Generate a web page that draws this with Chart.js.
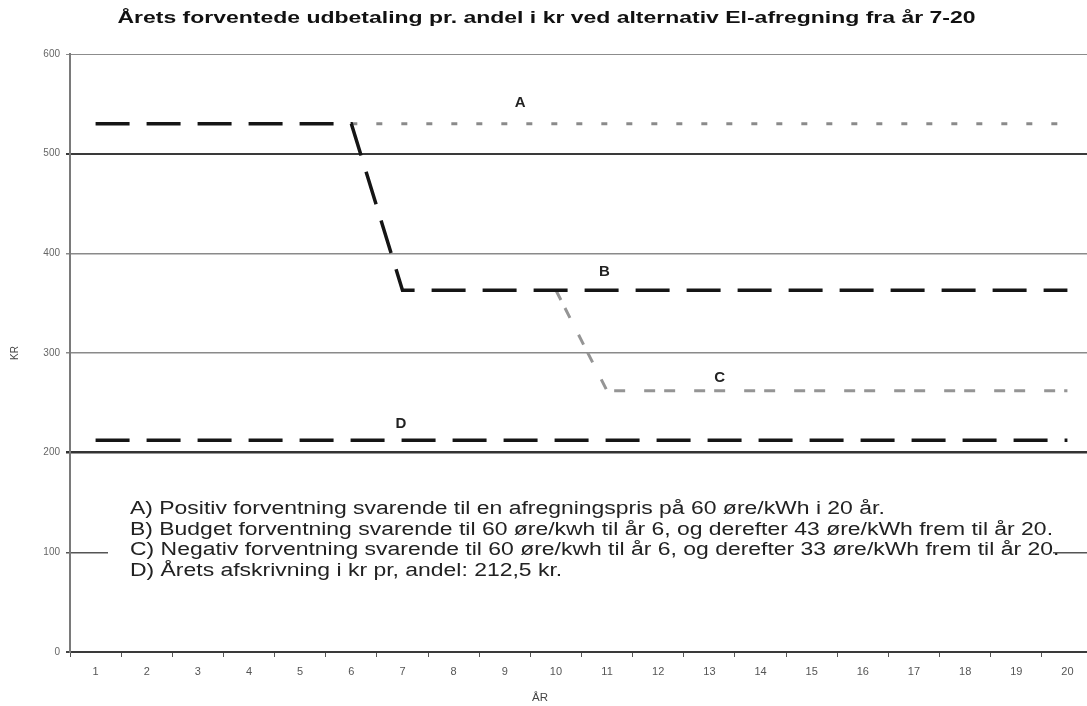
<!DOCTYPE html>
<html lang="da">
<head>
<meta charset="utf-8">
<title>Årets forventede udbetaling pr. andel</title>
<script src="https://cdn.jsdelivr.net/npm/chart.js@4/dist/chart.umd.min.js"></script>
<style>
  html, body { margin: 0; padding: 0; background: #fff; overflow: hidden; }
  #wrap { width: 1087px; height: 706px; overflow: hidden; }
  canvas { display: block; }
</style>
</head>
<body>
<div id="wrap"><canvas id="chart" width="1100" height="706"></canvas></div>
<script>
// Years 1-20
const years = ['1','2','3','4','5','6','7','8','9','10','11','12','13','14','15','16','17','18','19','20'];

// Expected yearly payout per share (kr)
const seriesA = [530,530,530,530,530,530,530,530,530,530,530,530,530,530,530,530,530,530,530,530];
const seriesB = [530,530,530,530,530,530,363,363,363,363,363,363,363,363,363,363,363,363,363,363];
const seriesC = [530,530,530,530,530,530,363,363,363,363,262,262,262,262,262,262,262,262,262,262];
const seriesD = [212.5,212.5,212.5,212.5,212.5,212.5,212.5,212.5,212.5,212.5,212.5,212.5,212.5,212.5,212.5,212.5,212.5,212.5,212.5,212.5];

// Y axis tick values
const yTicks = [0,100,200,300,400,500,600];

// Letter tags placed next to each curve: [letter, year position, kr]
const tagLetters = ['A','B','C','D'];
const tagYears = [9.3, 10.95, 13.2, 6.97];
const tagValues = [551, 381, 275, 229];

const titleText = 'Årets forventede udbetaling pr. andel i kr ved alternativ El-afregning fra år 7-20';
const xTitle = 'ÅR';
const noteLines = [
  'A) Positiv forventning svarende til en afregningspris på 60 øre/kWh i 20 år.',
  'B) Budget forventning svarende til 60 øre/kwh til år 6, og derefter 43 øre/kWh frem til år 20.',
  'C) Negativ forventning svarende til 60 øre/kwh til år 6, og derefter 33 øre/kWh frem til år 20.',
  'D) Årets afskrivning i kr pr, andel: 212,5 kr.'
];

const FONT = '"Liberation Sans", Arial, sans-serif';
const HIDDEN = 'rgba(0,0,0,0)';

// Hide the parts of a curve that run on top of curve B
function overlapsB(series, color) {
  return ctx => (series[ctx.p0DataIndex] === seriesB[ctx.p0DataIndex] &&
                 series[ctx.p1DataIndex] === seriesB[ctx.p1DataIndex]) ? HIDDEN : color;
}

// Draws text squeezed horizontally to a given width
function fitText(ctx, text, x, y, width, font, align) {
  ctx.save();
  ctx.font = font;
  const w = ctx.measureText(text).width;
  const sx = width / w;
  ctx.translate(x, y);
  ctx.scale(sx, 1);
  ctx.textAlign = align;
  ctx.fillText(text, 0, 0);
  ctx.restore();
}

const decorations = {
  id: 'decorations',
  beforeDatasetsDraw(chart) {
    const ctx = chart.ctx;
    const area = chart.chartArea;
    // Explanatory box over the lower part of the plot
    ctx.save();
    ctx.fillStyle = '#ffffff';
    ctx.fillRect(area.left + 38, area.top + 424, 945, 160);
    ctx.fillStyle = '#222';
    ctx.textBaseline = 'middle';
    ctx.font = '18px ' + FONT;
    const sx = 923 / ctx.measureText(noteLines[1]).width;
    noteLines.forEach((line, i) => {
      ctx.save();
      ctx.translate(area.left + 60, area.top + 455 + i * 20.6);
      ctx.scale(sx, 1);
      ctx.textAlign = 'left';
      ctx.fillText(line, 0, 0);
      ctx.restore();
    });
    ctx.restore();
  },
  afterDraw(chart) {
    const ctx = chart.ctx;
    const xs = chart.scales.x, ys = chart.scales.y;
    ctx.save();
    ctx.fillStyle = '#111';
    ctx.textBaseline = 'middle';
    fitText(ctx, titleText, 546.5, 18, 858, 'bold 17px ' + FONT, 'center');
    // Axis title under the year labels
    ctx.fillStyle = '#444';
    fitText(ctx, xTitle, 540, 698, 16, '11px ' + FONT, 'center');
    // Curve letters
    ctx.font = 'bold 15px ' + FONT;
    ctx.fillStyle = '#222';
    ctx.textAlign = 'center';
    const x0 = xs.getPixelForValue(0), x1 = xs.getPixelForValue(1);
    tagLetters.forEach((t, i) => {
      const px = x0 + (tagYears[i] - 1) * (x1 - x0);
      ctx.fillText(t, px, ys.getPixelForValue(tagValues[i]));
    });
    ctx.restore();
  }
};

const gridStyle = {
  600: ['#8c8c8c', 1],
  500: ['#3a3a3a', 2],
  400: ['#8a8a8a', 1.5],
  300: ['#8a8a8a', 1.5],
  200: ['#333333', 2.5],
  100: ['#555555', 1.5],
  0:   ['#444444', 2]
};

new Chart(document.getElementById('chart'), {
  type: 'line',
  data: {
    labels: years,
    datasets: [
      {
        label: 'A', data: seriesA, order: 2,
        borderColor: '#8a8a8a', borderWidth: 3, borderDash: [6, 19],
        segment: { borderColor: overlapsB(seriesA, '#8a8a8a') },
        pointRadius: 0, tension: 0, fill: false
      },
      {
        label: 'B', data: seriesB, order: 1,
        borderColor: '#151515', borderWidth: 3.5, borderDash: [34, 17],
        pointRadius: 0, tension: 0, fill: false
      },
      {
        label: 'C', data: seriesC, order: 3,
        borderColor: '#959595', borderWidth: 3, borderDash: [11, 9, 11, 19],
        segment: { borderColor: overlapsB(seriesC, '#959595') },
        pointRadius: 0, tension: 0, fill: false
      },
      {
        label: 'D', data: seriesD, order: 4,
        borderColor: '#151515', borderWidth: 3.5, borderDash: [34, 17],
        pointRadius: 0, tension: 0, fill: false
      }
    ]
  },
  options: {
    responsive: false,
    animation: false,
    events: [],
    layout: { padding: { top: 54, right: 7, left: 0, bottom: 0 } },
    plugins: {
      legend: { display: false },
      title: { display: false },
      tooltip: { enabled: false }
    },
    scales: {
      x: {
        type: 'category',
        offset: true,
        grid: { display: true, drawOnChartArea: false, drawTicks: true, tickLength: 5, color: '#555', lineWidth: 1, offset: true },
        border: { display: true, color: '#3a3a3a', width: 2 },
        ticks: { color: '#555', font: { size: 11, family: FONT }, padding: 8, maxRotation: 0, autoSkip: false },
        afterFit(s) { s.height = 54; }
      },
      y: {
        min: 0, max: 600,
        afterBuildTicks(s) { s.ticks = yTicks.map(v => ({ value: v })); },
        grid: {
          drawTicks: true, tickLength: 4,
          color: c => (gridStyle[c.tick.value] || ['#888', 1])[0],
          lineWidth: c => (gridStyle[c.tick.value] || ['#888', 1])[1]
        },
        border: { display: true, color: '#7a7a7a', width: 2 },
        ticks: { color: '#666', font: { size: 10, family: FONT }, padding: 6 },
        title: { display: true, text: 'KR', color: '#444', font: { size: 10, family: FONT }, padding: { top: 9, bottom: 0 } },
        afterFit(s) { s.width = 70; }
      }
    }
  },
  plugins: [decorations]
});
</script>
</body>
</html>
